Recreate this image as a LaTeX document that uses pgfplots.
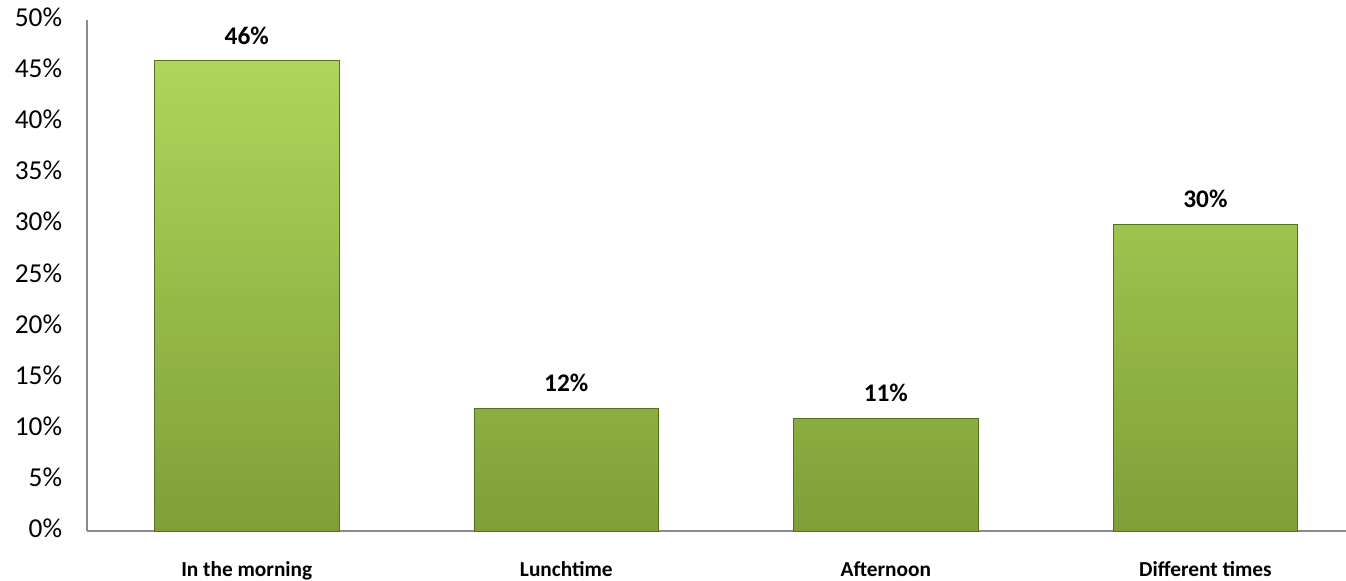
\documentclass[border=0pt]{standalone}
\usepackage{pgfplots}
\pgfplotsset{compat=1.18}
\usepackage{fontspec}
\setmainfont{Carlito}
\definecolor{barlight}{HTML}{AED65A}
\definecolor{bardark}{HTML}{7F9F38}
\definecolor{baredge}{HTML}{55701F}
\definecolor{axisgray}{HTML}{8C8C8C}
\begin{document}
\begin{tikzpicture}
\begin{axis}[
  scale only axis,
  width=944.25pt, height=383.25pt,
  xmin=-0.5, xmax=3.44, ymin=0, ymax=50,
  axis x line*=bottom, axis y line*=left,
  axis line style={axisgray, line width=1.5pt, -},
  major tick length=0pt,
  ytick={0,5,...,50},
  yticklabel={\pgfmathprintnumber{\tick}\%},
  /pgf/number format/assume math mode=true,
  yticklabel style={font=\fontsize{20.5}{24}\selectfont, anchor=mid east, inner sep=0pt, xshift=-18.5pt, yshift=-2.5pt},
  xtick={0,1,2,3},
  xticklabels={In the morning, Lunchtime, Afternoon, Different times},
  xticklabel style={font=\bfseries\fontsize{16}{19}\selectfont, anchor=base, inner sep=0pt, yshift=-34.5pt},
  clip=false,
]
\addplot[ybar, bar width=0.578, draw=baredge, line width=0.7pt,
  top color=barlight, bottom color=bardark,
  nodes near coords={\pgfmathprintnumber{\pgfplotspointmeta}\%},
  nodes near coords style={font=\bfseries\fontsize{19}{23}\selectfont, text=black, anchor=base, inner sep=0pt, yshift=12.5pt}]
  coordinates {(0,46) (1,12) (2,11) (3,30)};
\end{axis}
\pgfresetboundingbox
\path[use as bounding box] ([xshift=-65.25pt, yshift=-37.5pt]current axis.south west) rectangle ([yshift=15pt]current axis.north east);
\end{tikzpicture}
\end{document}
